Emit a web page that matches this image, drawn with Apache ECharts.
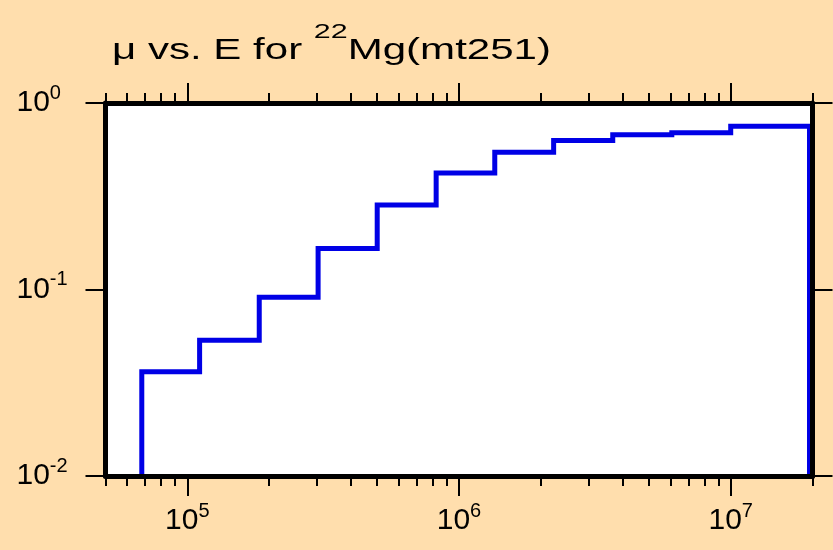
<!DOCTYPE html>
<html>
<head>
<meta charset="utf-8">
<script src="https://cdn.jsdelivr.net/npm/echarts@6/dist/echarts.min.js"></script>
<style>
html,body{margin:0;padding:0;background:#ffdead;}
#chart{width:833px;height:550px;}
</style>
</head>
<body>
<div id="chart"></div>
<script>
// Energy group boundaries (eV) and mu values per group
const energyEdges = [6.8e4, 1.11e5, 1.84e5, 3.03e5, 5.0e5, 8.24e5, 1.354e6, 2.23e6, 3.68e6, 6.07e6, 1.0e7, 1.95e7];
const muValues = [0.0362, 0.0534, 0.0909, 0.166, 0.284, 0.421, 0.545, 0.629, 0.675, 0.693, 0.751];

// Axis ticks and labels
const xMajorTicks = [1e5, 1e6, 1e7];
const xMajorExps = ['5', '6', '7'];
const xMinorTicks = [5e4, 6e4, 7e4, 8e4, 9e4,
  2e5, 3e5, 4e5, 5e5, 6e5, 7e5, 8e5, 9e5,
  2e6, 3e6, 4e6, 5e6, 6e6, 7e6, 8e6, 9e6, 2e7];
const yMajorTicks = [0.01, 0.1, 1];
const yMajorExps = ['-2', '-1', '0'];
const xRange = [5e4, 2e7];
const yRange = [0.01, 1];
const titleParts = ['\u03bc vs. E for ', '22', 'Mg(mt251)'];

// Build step polyline
const stepData = [[energyEdges[0], yRange[0]]];
for (let i = 0; i < muValues.length; i++) {
  stepData.push([energyEdges[i], muValues[i]]);
  stepData.push([energyEdges[i + 1], muValues[i]]);
}
stepData.push([energyEdges[energyEdges.length - 1], yRange[0]]);

const FONT = 'Liberation Sans, Arial, Helvetica, sans-serif';
const richLabel = {
  b: {fontSize: 30, fontFamily: FONT, fontWeight: 'normal', color: '#000', lineHeight: 40},
  s: {fontSize: 20, fontFamily: FONT, fontWeight: 'normal', color: '#000', lineHeight: 16, verticalAlign: 'top'}
};
function expLabel(ticks, exps) {
  return function (v) {
    let best = 0, bd = Infinity;
    for (let i = 0; i < ticks.length; i++) {
      const d = Math.abs(Math.log10(v) - Math.log10(ticks[i]));
      if (d < bd) { bd = d; best = i; }
    }
    return '{b|10}{s|' + exps[best] + '}';
  };
}

function xAxisDef(position, ticks, len, showLine, showLabel) {
  return {
    type: 'log', logBase: 10, min: xRange[0], max: xRange[1],
    position: position, z: 10,
    axisLine: {show: showLine, onZero: false, lineStyle: {color: '#000', width: 5}},
    axisTick: {show: true, inside: false, length: len, customValues: ticks,
      lineStyle: {color: '#000', width: 2}},
    axisLabel: showLabel ? {
      show: true, customValues: ticks, margin: 25,
      formatter: expLabel(xMajorTicks, xMajorExps), rich: richLabel
    } : {show: false},
    splitLine: {show: false},
    minorTick: {show: false}
  };
}

function yAxisDef(position, showLabel) {
  return {
    type: 'log', logBase: 10, min: yRange[0], max: yRange[1],
    position: position, z: 10,
    axisLine: {show: true, onZero: false, lineStyle: {color: '#000', width: 5}},
    axisTick: {show: true, inside: false, length: 20, customValues: yMajorTicks,
      lineStyle: {color: '#000', width: 2}},
    axisLabel: showLabel ? {
      show: true, customValues: yMajorTicks, margin: 89, align: 'left',
      formatter: expLabel(yMajorTicks, yMajorExps), rich: richLabel
    } : {show: false},
    splitLine: {show: false},
    minorTick: {show: false}
  };
}

const chart = echarts.init(document.getElementById('chart'), null, {renderer: 'canvas'});
chart.setOption({
  backgroundColor: '#ffdead',
  animation: false,
  grid: {
    left: 105.5, right: 20.5, top: 103, bottom: 74,
    show: true, backgroundColor: '#ffffff', borderWidth: 0,
    containLabel: false, outerBoundsMode: 'none'
  },
  graphic: [{
    type: 'text',
    x: 112, y: 22, scaleX: 1.45, scaleY: 1, z: 20,
    style: {
      x: 0, y: 0, align: 'left', verticalAlign: 'top',
      text: '{t|' + titleParts[0] + '}{s|' + titleParts[1] + '}{t|' + titleParts[2] + '}',
      rich: {
        t: {fontSize: 29, fontFamily: FONT, fontWeight: 'normal', fill: '#000', lineHeight: 58},
        s: {fontSize: 21, fontFamily: FONT, fontWeight: 'normal', fill: '#000', lineHeight: 10, verticalAlign: 'top'}
      }
    }
  }],
  xAxis: [
    xAxisDef('bottom', xMajorTicks, 20, true, true),
    xAxisDef('bottom', xMinorTicks, 10, false, false),
    xAxisDef('top', xMajorTicks, 20, true, false),
    xAxisDef('top', xMinorTicks, 10, false, false)
  ],
  yAxis: [
    yAxisDef('left', true),
    yAxisDef('right', false)
  ],
  series: [{
    type: 'line',
    xAxisIndex: 0, yAxisIndex: 0,
    data: stepData,
    showSymbol: false, symbol: 'none',
    lineStyle: {color: '#0000e6', width: 5, join: 'miter', cap: 'butt'},
    clip: false,
    z: 2
  }]
});
</script>
</body>
</html>
